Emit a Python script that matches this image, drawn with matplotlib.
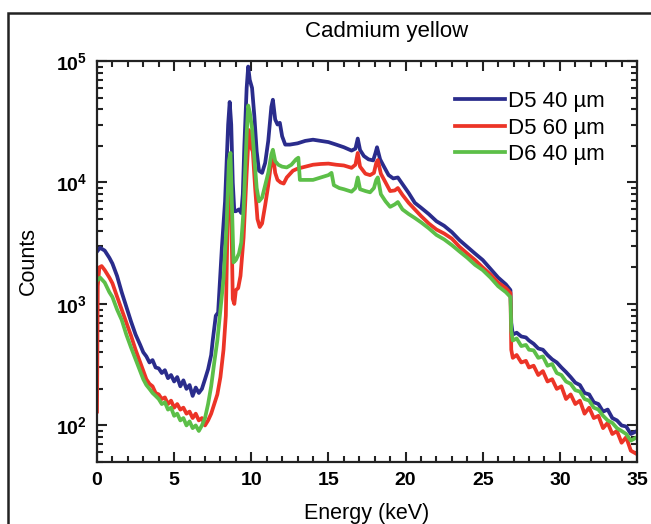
import numpy as np
import matplotlib
matplotlib.use('Agg')
import matplotlib.pyplot as plt
from matplotlib.ticker import MultipleLocator, LogLocator, FuncFormatter, NullFormatter
from matplotlib.patches import Rectangle

plt.rcParams['font.family'] = ['Liberation Sans', 'DejaVu Sans']
plt.rcParams['mathtext.fontset'] = 'custom'
plt.rcParams['mathtext.bf'] = 'Liberation Sans:bold'
plt.rcParams['mathtext.rm'] = 'Liberation Sans:bold'

labels = ['D5 40 \u00b5m', 'D5 60 \u00b5m', 'D6 40 \u00b5m']
colors = ['#2a2c8c', '#ec3427', '#5cbf48']

# D5 40 um
e_blue = [0.0, 0.2, 0.5, 0.8, 1.0, 1.3, 1.6, 1.9, 2.2, 2.5, 2.8, 3.0, 3.2, 3.4, 3.6, 3.8,
          4.0, 4.2, 4.4, 4.6, 4.8, 5.0, 5.2, 5.4, 5.6, 5.8, 6.0, 6.2, 6.4, 6.6, 6.8, 7.0,
          7.2, 7.4, 7.5, 7.7, 7.85, 8.1, 8.3, 8.5, 8.6, 8.7, 8.8, 8.9, 9.0, 9.2, 9.35, 9.45,
          9.55, 9.7, 9.8, 9.9, 10.05, 10.2, 10.35, 10.5, 10.7, 10.9, 11.1, 11.3, 11.4, 11.55,
          11.7, 11.85, 12.0, 12.2, 12.5, 13.0, 13.5, 14.0, 14.5, 15.0, 15.5, 16.0, 16.5, 16.75,
          16.9, 17.05, 17.3, 17.6, 17.9, 18.05, 18.15, 18.35, 18.6, 18.9, 19.2, 19.5, 19.8, 20.2,
          20.6, 21.0, 21.5, 22.0, 22.5, 23.0, 23.5, 24.0, 24.5, 25.0, 25.5, 26.0, 26.5, 26.8,
          26.85, 26.95, 27.2, 27.5, 27.8, 28.0, 28.3, 28.6, 28.9, 29.2, 29.5, 29.8, 30.1, 30.4,
          30.7, 31.0, 31.3, 31.6, 31.9, 32.2, 32.5, 32.8, 33.1, 33.4, 33.7, 34.0, 34.3, 34.6, 35.0]
c_blue = [2700, 2900, 2750, 2400, 2150, 1700, 1250, 950, 720, 560, 460, 400, 370, 330, 345, 300,
          295, 270, 285, 245, 260, 230, 250, 210, 235, 200, 215, 175, 205, 185, 200, 240,
          290, 380, 500, 800, 850, 3000, 7000, 30000, 46000, 30000, 10000, 5800, 5800, 6000, 5600, 8000,
          20000, 60000, 90000, 70000, 60000, 35000, 18000, 12500, 12000, 14500, 22000, 42000, 48000, 33000,
          30000, 31000, 24000, 20500, 20500, 21000, 22000, 22500, 22000, 21500, 20500, 19500, 18300, 19000,
          23000, 18500, 16500, 15500, 15200, 17500, 19500, 15500, 13500, 11500, 10800, 11000, 9700, 8200,
          6800, 6200, 5500, 4800, 4400, 3900, 3350, 2950, 2600, 2300, 1950, 1650, 1450, 1300,
          700, 560, 580, 540, 530, 500, 470, 430, 420, 380, 350, 330, 300, 275,
          250, 225, 215, 185, 180, 155, 150, 130, 135, 115, 110, 100, 98, 85, 90]

# D5 60 um
e_red = [0.0, 0.05, 0.15, 0.3, 0.5, 0.8, 1.0, 1.3, 1.6, 1.9, 2.2, 2.5, 2.8, 3.0, 3.2, 3.4,
         3.6, 3.8, 4.0, 4.2, 4.4, 4.6, 4.8, 5.0, 5.2, 5.4, 5.6, 5.8, 6.0, 6.2, 6.4, 6.6,
         6.8, 7.0, 7.2, 7.4, 7.6, 7.8, 8.0, 8.2, 8.35, 8.5, 8.6, 8.7, 8.8, 8.9, 9.0, 9.15,
         9.3, 9.5, 9.7, 9.85, 9.95, 10.1, 10.25, 10.4, 10.55, 10.7, 10.9, 11.1, 11.3, 11.4,
         11.55, 11.7, 11.9, 12.1, 12.3, 12.7, 13.0, 13.5, 14.0, 14.5, 15.0, 15.5, 16.0, 16.5,
         16.75, 16.9, 17.05, 17.4, 17.7, 17.95, 18.1, 18.2, 18.4, 18.7, 19.0, 19.3, 19.5, 19.8,
         20.2, 20.6, 21.0, 21.5, 22.0, 22.5, 23.0, 23.5, 24.0, 24.5, 25.0, 25.5, 26.0, 26.5,
         26.8, 26.85, 26.95, 27.2, 27.5, 27.8, 28.0, 28.3, 28.6, 28.9, 29.2, 29.5, 29.8, 30.1,
         30.4, 30.7, 31.0, 31.3, 31.6, 31.9, 32.2, 32.5, 32.8, 33.1, 33.4, 33.7, 34.0, 34.3,
         34.6, 35.0]
c_red = [130, 1400, 2000, 2050, 1900, 1650, 1480, 1150, 900, 700, 550, 420, 330, 280, 240, 220,
         210, 185, 180, 165, 170, 150, 160, 140, 150, 135, 140, 125, 130, 115, 125, 110,
         115, 100, 110, 125, 150, 180, 250, 420, 800, 8000, 14000, 6000, 1100, 1000, 1300, 1350,
         1700, 3500, 12000, 27000, 20000, 18000, 9000, 5000, 4300, 4600, 6500, 9500, 15000, 17000,
         12000, 10500, 10000, 9800, 11000, 12500, 13000, 13500, 14000, 14200, 14300, 14000, 13800, 13200,
         14000, 17500, 13500, 11800, 11500, 12000, 14500, 15300, 11800, 10000, 8500, 8600, 9000, 7900,
         6800, 6000, 5300, 4600, 4100, 3800, 3450, 2950, 2600, 2300, 2000, 1750, 1500, 1350,
         1230, 420, 360, 380, 330, 340, 300, 310, 260, 280, 230, 240, 200, 210,
         165, 180, 150, 160, 125, 140, 115, 120, 95, 105, 85, 90, 72, 80,
         62, 58]

# D6 40 um
e_green = [0.0, 0.2, 0.5, 0.8, 1.0, 1.3, 1.6, 1.9, 2.2, 2.5, 2.8, 3.0, 3.2, 3.4, 3.6, 3.8,
           4.0, 4.2, 4.4, 4.6, 4.8, 5.0, 5.2, 5.4, 5.6, 5.8, 6.0, 6.2, 6.4, 6.6, 6.8, 7.0,
           7.2, 7.4, 7.6, 7.8, 8.0, 8.2, 8.4, 8.55, 8.65, 8.75, 8.85, 9.0, 9.2, 9.35, 9.5, 9.7,
           9.8, 9.9, 10.05, 10.2, 10.35, 10.5, 10.7, 10.9, 11.1, 11.3, 11.4, 11.55, 11.75, 12.0,
           12.3, 12.6, 12.9, 13.05, 13.15, 13.5, 14.0, 14.5, 15.0, 15.2, 15.35, 15.7, 16.0, 16.5,
           16.75, 16.9, 17.05, 17.4, 17.7, 17.95, 18.1, 18.2, 18.4, 18.7, 19.0, 19.3, 19.5, 19.8,
           20.2, 20.6, 21.0, 21.5, 22.0, 22.5, 23.0, 23.5, 24.0, 24.5, 25.0, 25.5, 26.0, 26.5,
           26.8, 26.85, 26.95, 27.2, 27.5, 27.8, 28.0, 28.3, 28.6, 28.9, 29.2, 29.5, 29.8, 30.1,
           30.4, 30.7, 31.0, 31.3, 31.6, 31.9, 32.2, 32.5, 32.8, 33.1, 33.4, 33.7, 34.0, 34.3,
           34.6, 35.0]
c_green = [1550, 1650, 1500, 1250, 1140, 900, 740, 560, 440, 350, 280, 240, 215, 200, 185, 175,
           165, 150, 155, 135, 140, 120, 125, 110, 115, 100, 108, 95, 100, 90, 100, 115,
           150, 210, 330, 500, 900, 1600, 4500, 15000, 17500, 6000, 2200, 2300, 2600, 3200, 6000, 25000,
           43000, 38000, 28000, 16000, 9000, 7000, 7500, 9500, 12000, 17000, 18600, 15000, 14000, 13500,
           13300, 14000, 15500, 16000, 10500, 10500, 10500, 11000, 11500, 12000, 9500, 9000, 8800, 8400,
           9000, 11000, 8800, 8500, 8300, 9000, 10500, 11000, 8000, 7000, 6300, 6600, 6900, 6000,
           5500, 5100, 4700, 4200, 3700, 3400, 3050, 2700, 2400, 2100, 1900, 1650, 1400, 1250,
           1140, 600, 500, 520, 450, 460, 420, 415, 360, 370, 310, 320, 270, 260,
           230, 220, 195, 190, 165, 160, 140, 135, 120, 110, 105, 95, 90, 85,
           75, 80]

series = [(e_blue, c_blue), (e_red, c_red), (e_green, c_green)]

fig = plt.figure(figsize=(6.51, 5.24), dpi=100)
ax = fig.add_axes([97 / 651, 1 - 462 / 524, 540 / 651, 401 / 524])

for (e, c), lab, col in zip(series, labels, colors):
    ax.plot(e, c, color=col, lw=2.7, label=lab)

ax.set_yscale('log')
ax.set_xlim(0, 35)
ax.set_ylim(50, 1e5)

ax.xaxis.set_major_locator(MultipleLocator(5))
ax.xaxis.set_minor_locator(MultipleLocator(1))
ax.yaxis.set_major_locator(LogLocator(base=10, numticks=10))
ax.yaxis.set_minor_locator(LogLocator(base=10, subs=np.arange(2, 10), numticks=20))
ax.yaxis.set_minor_formatter(NullFormatter())
ax.yaxis.set_major_formatter(FuncFormatter(lambda v, p: r'$\mathbf{10^{%d}}$' % round(np.log10(v))))

ax.tick_params(which='both', direction='in', top=True, right=True, width=1.5, color='#222222')
ax.tick_params(which='major', length=7, labelsize=14, pad=7)
ax.tick_params(which='minor', length=4)
for t in ax.get_xticklabels():
    t.set_fontweight('bold')
for s in ax.spines.values():
    s.set_linewidth(1.6)
    s.set_color('#222222')

ax.set_xlabel('Energy (keV)', fontsize=15.5, labelpad=10)
ax.set_ylabel('Counts', fontsize=15.5, labelpad=12)
ax.set_title('Cadmium yellow', fontsize=16, x=0.537, pad=17)

ax.legend(loc='upper left', bbox_to_anchor=(0.663, 0.925), frameon=False, fontsize=16,
          handlelength=2.25, handletextpad=0.15, labelspacing=0.25, borderpad=0, borderaxespad=0)

# outer frame around the figure panel
fig.patches.append(Rectangle((8 / 651, -0.05), 1.1, 1 - 13 / 524 + 0.05, transform=fig.transFigure,
                             fill=False, lw=1.8, edgecolor='#222222'))

fig.savefig('out.png', dpi=100)
